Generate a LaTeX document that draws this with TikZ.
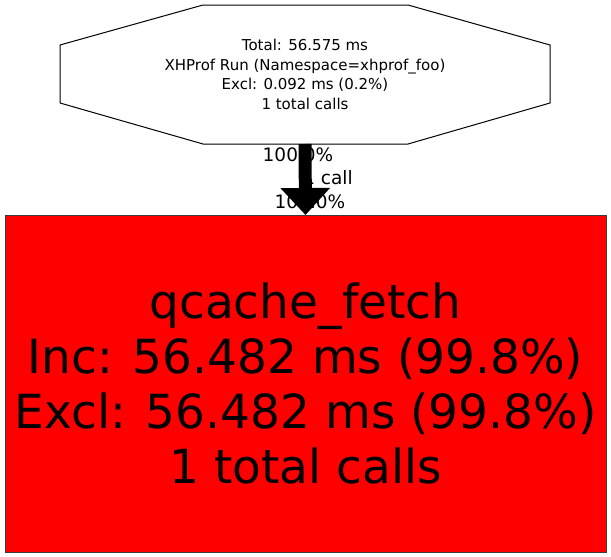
\documentclass[tikz,border=0pt]{standalone}
\usepackage{fontspec}
\setmainfont{DejaVu Sans}
\usepackage{tikz}
\usetikzlibrary{arrows.meta}
\definecolor{fetchRed}{RGB}{255, 0, 0}
\definecolor{fetchEdge}{RGB}{60, 60, 60}

\begin{document}
\begin{tikzpicture}[x=1pt, y=-1pt,
    runbox/.style={rectangle, minimum width=490pt, minimum height=139pt, inner sep=0pt, outer sep=0pt,
      align=center, font=\fontsize{15}{19.5}\selectfont},
    fetchbox/.style={rectangle, fill=fetchRed, draw=fetchEdge, line width=1pt, minimum width=601pt,
      minimum height=337pt, inner sep=0pt, outer sep=0pt, align=center, font=\fontsize{47}{55}\selectfont},
    elabel/.style={inner sep=0pt, font=\fontsize{18.5}{22}\selectfont}]
        \useasboundingbox (0,0) rectangle (611,557);
        \draw[line width=1pt] (203,5) -- (408,5) -- (550,45) -- (550,103) -- (408,144) -- (203,144) -- (60,103) -- (60,45) -- cycle;
        \node[runbox] (run) at (305,74.5) {Total: 56.575 ms\\XHProf Run (Namespace=xhprof\_foo)\\Excl: 0.092 ms (0.2\%)\\1 total calls};
        \node[fetchbox] (fetch) at (305.5,383.5) {qcache\_fetch\\Inc: 56.482 ms (99.8\%)\\Excl: 56.482 ms (99.8\%)\\1 total calls};
        \node[elabel] (pcttop) at (298,155) {100.0\%};
        \node[elabel] (calls) at (328,178) {1 call};
        \node[elabel] (pctbot) at (310,202) {100.0\%};
        \draw[line width=13pt, -{Triangle[width=48pt, length=27pt]}] (run.south) -- (fetch.north);
      \end{tikzpicture}
\end{document}
